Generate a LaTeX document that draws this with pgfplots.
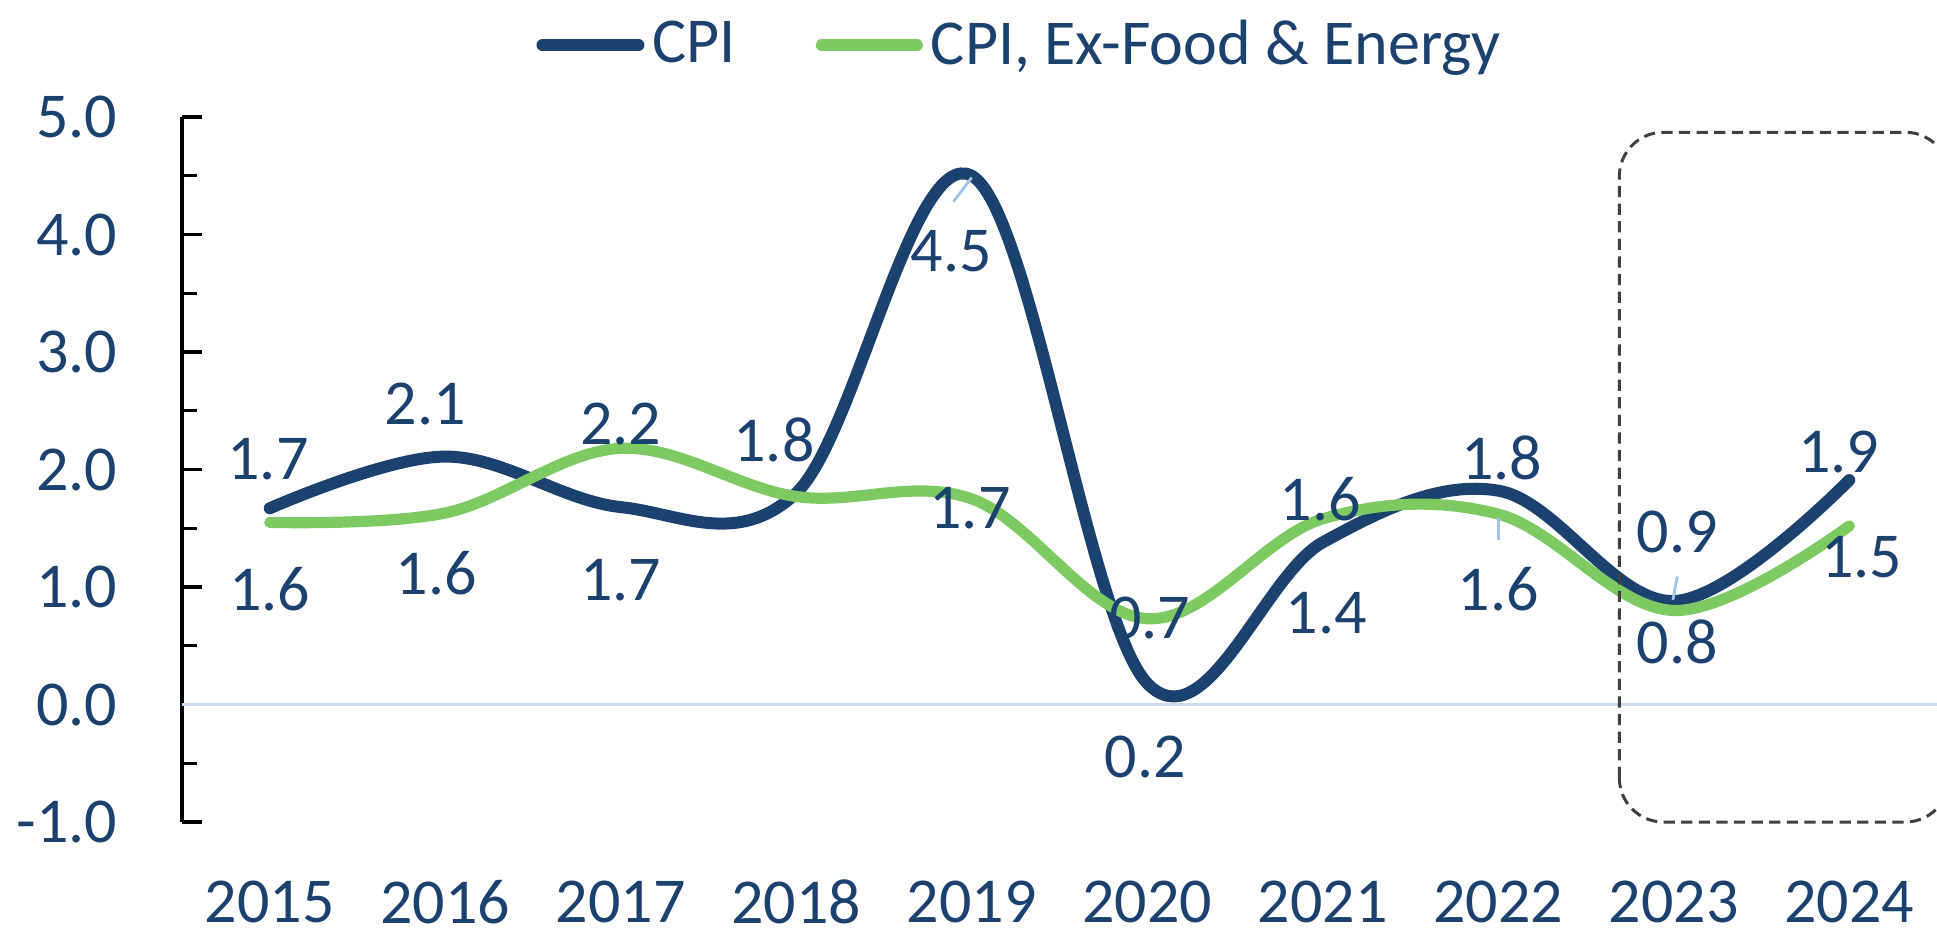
\documentclass[border=0pt]{standalone}
\usepackage{pgfplots}
\pgfplotsset{compat=1.18}
\usepackage{fontspec}
\setmainfont{Carlito}
\definecolor{cpi}{HTML}{1B416E}
\definecolor{core}{HTML}{7DC962}
\definecolor{zero}{HTML}{C9DCF2}
\definecolor{leader}{HTML}{9DC3E6}
\definecolor{boxc}{HTML}{404040}
\tikzset{lbl/.style={font=\fontsize{16}{19}\selectfont, text=cpi, inner sep=0pt}}
\begin{document}
\begin{tikzpicture}
\begin{axis}[
  at={(0,0)}, anchor=south west, scale only axis,
  width=438.75pt, height=176.25pt,
  xmin=-0.5, xmax=9.5, ymin=-1, ymax=5,
  clip=false,
  axis x line=bottom, axis y line=left,
  x axis line style={draw=none},
  y axis line style={-, black, line width=0.8pt},
  xtick={0,...,9},
  xticklabels={2015,2016,2017,2018,2019,2020,2021,2022,2023,2024},
  xtick style={draw=none},
  ytick={-1,0,1,2,3,4,5},
  yticklabels={-1.0,0.0,1.0,2.0,3.0,4.0,5.0},
  minor ytick={-0.5,0.5,1.5,2.5,3.5,4.5},
  tick align=inside,
  ytick style={black, line width=0.8pt},
  major tick length=5pt, minor tick length=3.75pt,
  ticklabel style={font=\fontsize{16}{19}\selectfont, text=cpi},
  yticklabel style={anchor=east, inner sep=0pt, xshift=-16pt},
  xticklabel style={anchor=center, inner sep=0pt, yshift=-20pt},
  legend style={at={(0.479,1.102)}, anchor=center, draw=none, fill=none,
    font=\fontsize{16}{19}\selectfont, text=cpi, legend columns=2,
    /tikz/every even column/.append style={column sep=18pt}},
  legend image code/.code={\draw[#1, line cap=round] (0pt,0pt) -- (24pt,0pt);},
]
\draw[zero, line width=0.7pt] (axis cs:-0.5,0) -- (axis cs:9.5,0);

\addplot[smooth, tension=0.6, color=cpi, line width=3.0pt, line cap=round] coordinates {
 (0,1.67) (1,2.11) (2,1.68) (3,1.80) (4,4.50) (5,0.18) (6,1.38) (7,1.82) (8,0.88) (9,1.91)};
\addlegendentry{CPI}
\addplot[smooth, tension=0.6, color=core, line width=2.8pt, line cap=round] coordinates {
 (0,1.55) (1,1.63) (2,2.18) (3,1.77) (4,1.75) (5,0.73) (6,1.58) (7,1.62) (8,0.80) (9,1.52)};
\addlegendentry{CPI, Ex-Food \& Energy}

% leader lines
\draw[leader, line width=0.7pt] (axis cs:4.0,4.485) -- (axis cs:3.896,4.28);
\draw[leader, line width=0.7pt] (axis cs:7.0,1.59) -- (axis cs:7.0,1.40);
\draw[leader, line width=0.7pt] (axis cs:8.02,1.09) -- (axis cs:7.995,0.89);

% data labels
\node[lbl] at (axis cs:-0.01,2.09) {1.7};
\node[lbl] at (axis cs:0.0,0.98) {1.6};
\node[lbl] at (axis cs:0.886,2.56) {2.1};
\node[lbl] at (axis cs:0.949,1.115) {1.6};
\node[lbl] at (axis cs:2.0,2.39) {2.2};
\node[lbl] at (axis cs:2.0,1.055) {1.7};
\node[lbl] at (axis cs:2.873,2.255) {1.8};
\node[lbl] at (axis cs:3.884,3.855) {4.5};
\node[lbl] at (axis cs:3.99,1.668) {1.7};
\node[lbl] at (axis cs:4.99,-0.45) {0.2};
\node[lbl] at (axis cs:5.014,0.74) {0.7};
\node[lbl] at (axis cs:5.985,1.745) {1.6};
\node[lbl] at (axis cs:6.02,0.775) {1.4};
\node[lbl] at (axis cs:7.02,2.10) {1.8};
\node[lbl] at (axis cs:7.0,0.98) {1.6};
\node[lbl] at (axis cs:8.02,1.47) {0.9};
\node[lbl] at (axis cs:8.02,0.53) {0.8};
\node[lbl] at (axis cs:8.94,2.145) {1.9};
\node[lbl] at (axis cs:9.07,1.25) {1.5};

% highlight box
\draw[boxc, line width=0.75pt, dash pattern=on 2.8pt off 1.6pt, rounded corners=11pt]
  (axis cs:7.69,-1.0) rectangle (axis cs:9.57,4.87);
\end{axis}
\pgfresetboundingbox
\path[use as bounding box] (-45.5pt,-27.25pt) rectangle (438.75pt,205.5pt);
\end{tikzpicture}
\end{document}
